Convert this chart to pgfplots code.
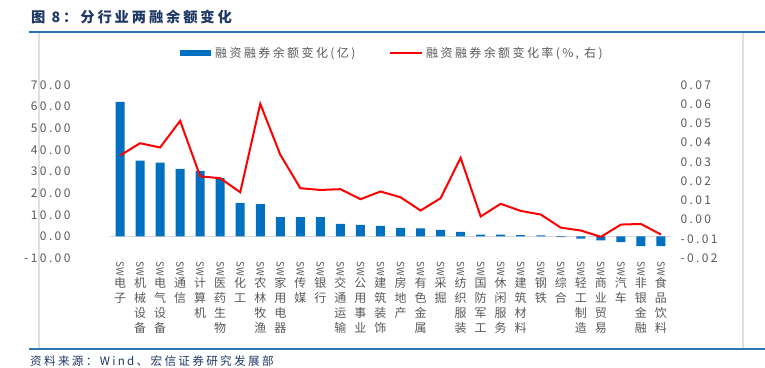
\documentclass[border=0pt]{standalone}
\usepackage{pgfplots}
\pgfplotsset{compat=1.18}
\usepackage{pgfplotstable}
\usepackage{fontspec}
\setmainfont{Noto Sans CJK SC}[LetterSpace=20]
\newfontfamily\swfont{Noto Sans CJK SC}
\definecolor{barblue}{RGB}{0,112,192}
\definecolor{txtgray}{RGB}{89,89,89}
\definecolor{navy}{RGB}{31,56,100}
\definecolor{ruleblue}{RGB}{46,117,182}
\newcommand{\sw}{\rotatebox[origin=c]{-90}{\swfont\fontsize{10}{10}\selectfont SW}}

\pgfplotstableread{
x bar rate
1 62.2 0.0333
2 35.0 0.0397
3 34.1 0.0375
4 31.2 0.0514
5 30.3 0.0225
6 26.9 0.0215
7 15.5 0.0142
8 14.9 0.0602
9 8.9 0.0337
10 8.9 0.0163
11 8.9 0.0154
12 5.8 0.0158
13 5.3 0.0106
14 4.8 0.0146
15 3.9 0.0116
16 3.7 0.0047
17 3.0 0.0111
18 2.1 0.0321
19 0.8 0.0016
20 0.8 0.0082
21 0.6 0.0045
22 0.5 0.0026
23 -0.3 -0.0042
24 -1.0 -0.0057
25 -1.9 -0.0090
26 -2.7 -0.0026
27 -4.5 -0.0023
28 -4.5 -0.0078
}\datatable

\begin{document}
\begin{tikzpicture}
\useasboundingbox (0pt,0pt) rectangle (765pt,367pt);
\draw[black!12, line width=2pt] (38.5pt,18pt) -- (38.5pt,335pt);
\draw[black!12, line width=1.5pt] (743pt,18pt) -- (743pt,335pt);
\draw[ruleblue, line width=1.3pt] (29pt,335pt) -- (765pt,335pt);
\draw[ruleblue, line width=1.3pt] (29pt,18pt) -- (765pt,18pt);
\node[anchor=west, inner sep=0pt, text=navy, font=\fontsize{14.3}{16}\selectfont\bfseries] at (31pt,350pt) {图 8：分行业两融余额变化};
\node[anchor=west, inner sep=0pt, text=navy, font=\fontsize{11.6}{13}\selectfont] at (30pt,6pt) {资料来源：Wind、宏信证券研究发展部};

% legend
\fill[barblue] (180pt,310.5pt) rectangle (211pt,317pt);
\node[anchor=west, inner sep=0pt, text=txtgray, font=\fontsize{12}{14}\selectfont] at (215pt,313.5pt) {融资融券余额变化(亿)};
\draw[red, line width=2pt] (390pt,313.5pt) -- (422pt,313.5pt);
\node[anchor=west, inner sep=0pt, text=txtgray, font=\fontsize{12}{14}\selectfont] at (426pt,313.5pt) {融资融券余额变化率(\%, 右)};

\begin{axis}[
  at={(110pt,109pt)}, anchor=south west,
  scale only axis, width=561pt, height=173pt,
  xmin=0.5, xmax=28.5, ymin=-10, ymax=70,
  axis line style={draw=none},
  tick style={draw=none}, major tick length=0pt,
  xtick={1,...,28},
  xticklabels={
    {\sw\\电\\子},{\sw\\机\\械\\设\\备},{\sw\\电\\气\\设\\备},{\sw\\通\\信},
    {\sw\\计\\算\\机},{\sw\\医\\药\\生\\物},{\sw\\化\\工},{\sw\\农\\林\\牧\\渔},
    {\sw\\家\\用\\电\\器},{\sw\\传\\媒},{\sw\\银\\行},{\sw\\交\\通\\运\\输},
    {\sw\\公\\用\\事\\业},{\sw\\建\\筑\\装\\饰},{\sw\\房\\地\\产},{\sw\\有\\色\\金\\属},
    {\sw\\采\\掘},{\sw\\纺\\织\\服\\装},{\sw\\国\\防\\军\\工},{\sw\\休\\闲\\服\\务},
    {\sw\\建\\筑\\材\\料},{\sw\\钢\\铁},{\sw\\综\\合},{\sw\\轻\\工\\制\\造},
    {\sw\\商\\业\\贸\\易},{\sw\\汽\\车},{\sw\\非\\银\\金\\融},{\sw\\食\\品\\饮\\料}},
  xticklabel style={align=center, anchor=north, text=txtgray, font=\fontsize{12}{15}\selectfont},
  ytick={-10,0,10,20,30,40,50,60,70},
  yticklabels={-10.00,0.00,10.00,20.00,30.00,40.00,50.00,60.00,70.00},
  yticklabel style={xshift=-36pt, text=txtgray, font=\fontsize{12}{14}\selectfont},
  extra y ticks={0}, extra y tick labels={},
  extra y tick style={grid=major, major grid style={black!15, line width=1pt}},
]
\addplot[ybar, bar width=9pt, fill=barblue, draw=none]
  table[x=x,y=bar]{\datatable};
\end{axis}

\begin{axis}[
  at={(110pt,109pt)}, anchor=south west,
  scale only axis, width=561pt, height=173pt,
  xmin=0.5, xmax=28.5, ymin=-0.02, ymax=0.07,
  axis y line*=right, axis x line=none,
  axis line style={draw=none},
  tick style={draw=none}, major tick length=0pt,
  scaled y ticks=false,
  ytick={-0.02,-0.01,0,0.01,0.02,0.03,0.04,0.05,0.06,0.07},
  yticklabels={-0.02,-0.01,0.00,0.01,0.02,0.03,0.04,0.05,0.06,0.07},
  yticklabel style={anchor=west, xshift=6pt, text=txtgray, font=\fontsize{12}{14}\selectfont},
]
\addplot[red, line width=2pt, mark=none] table[x=x,y=rate]{\datatable};
\end{axis}
\end{tikzpicture}
\end{document}
